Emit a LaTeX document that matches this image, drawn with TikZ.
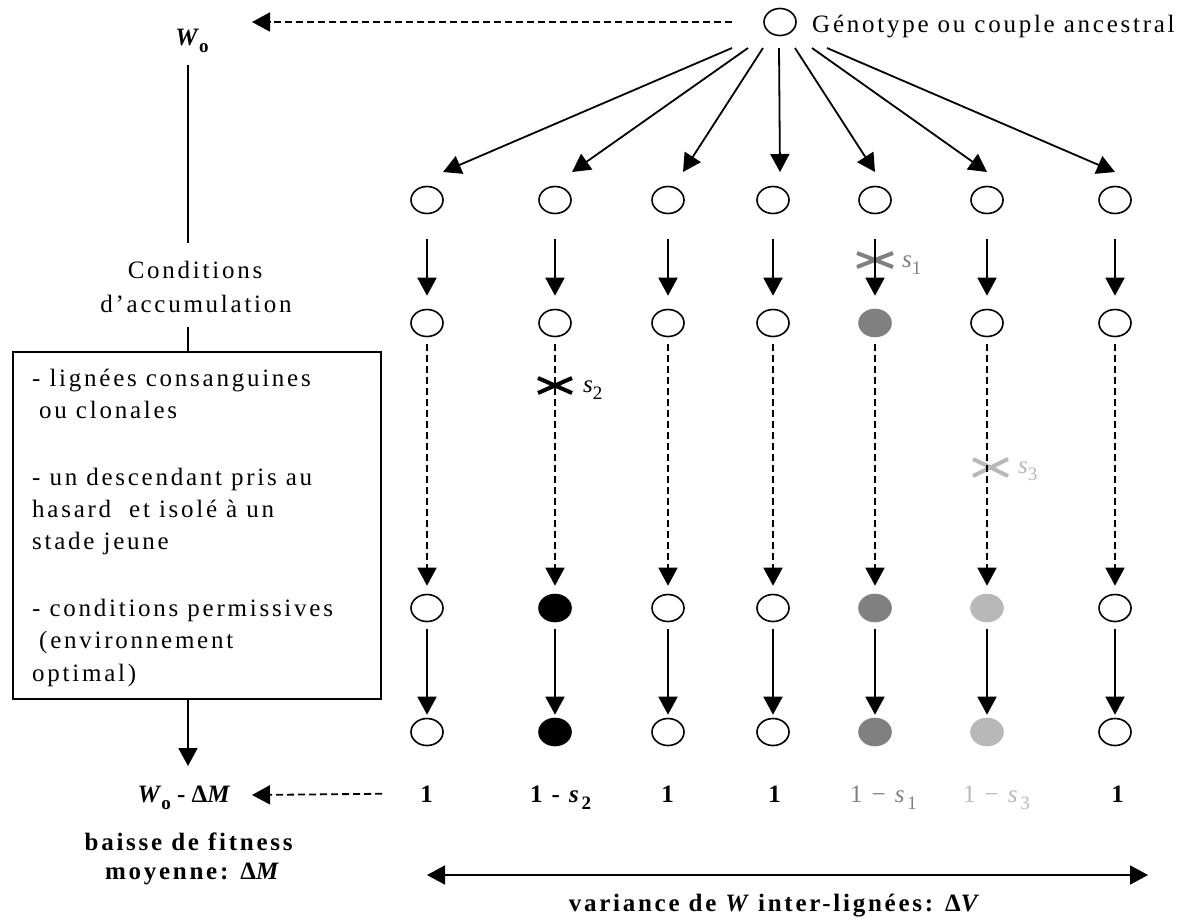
\documentclass[tikz,border=0pt]{standalone}
\usepackage{fontspec}
\setmainfont{Liberation Serif}
\newfontfamily\lsf{Liberation Serif}[LetterSpace=11]
\usetikzlibrary{arrows.meta,shapes.geometric}
\definecolor{gA}{RGB}{128,128,128}
\definecolor{gB}{RGB}{184,184,184}
\newcommand{\sfx}[1]{\raisebox{-7.5pt}{\fontsize{19}{19}\selectfont #1}}
\begin{document}
\begin{tikzpicture}[x=1pt,y=-1pt,
  txt/.style={font=\fontsize{25}{32.3}\selectfont, inner sep=0pt},
  ltxt/.style={font=\fontsize{25}{32.3}\selectfont\lsf, inner sep=0pt},
  circ/.style={ellipse, draw, line width=1.6pt, minimum width=32pt, minimum height=27pt, inner sep=0pt},
  ln/.style={line width=1.8pt},
  arr/.style={ln, -{Triangle[length=18pt,width=19pt]}},
  darr/.style={arr, dash pattern=on 7pt off 4pt},
  crs/.style={line width=4pt},
  cs-2-3/.style={fill=black},
  cs-2-4/.style={fill=black},
  cs-5-2/.style={fill=gA, draw=gA},
  cs-5-3/.style={fill=gA, draw=gA},
  cs-5-4/.style={fill=gA, draw=gA},
  cs-6-3/.style={fill=gB, draw=gB},
  cs-6-4/.style={fill=gB, draw=gB},
]
\useasboundingbox (0,0) rectangle (1198,922);

% ancestor
\node[circ] (anc) at (780,22) {};
\node[ltxt, anchor=base west] (gen) at (812,32) {Génotype ou couple ancestral};
\node[txt, anchor=base] (w0) at (192,45) {\textbf{\textit{W}\sfx{o}}};
\coordinate (w0tip) at (252,22);
\draw[darr] ([xshift=-31pt]anc.west) -- (w0tip);

% columns
\foreach \x [count=\i] in {427,555,668,773,875,987,1115} {
  \foreach \y [count=\j] in {200,323,608,732} {
    \node[circ, cs-\i-\j/.try] (c\i-\j) at (\x,\y) {};
  }
}

% crosses (mutations)
\draw[crs, gA] (857,253) -- (893,267) (857,267) -- (893,253);
\node[txt, gA, anchor=base west] (s1) at (902,267) {\textit{s}\sfx{1}};
\draw[crs] (538,378) -- (572,393) (538,393) -- (572,378);
\node[txt, anchor=base west] (s2) at (583,392) {\textit{s}\sfx{2}};
\draw[crs, gB] (973,459) -- (1008,476) (973,476) -- (1008,459);
\node[txt, gB, anchor=base west] (s3) at (1018,473) {\textit{s}\sfx{3}};

% fan from the ancestor
\foreach \s/\t [count=\i] in {732/443,748/572,763/683,779/780,795/875,812/987,827/1115} {
  \coordinate (fs\i) at (\s,48);
  \coordinate (ft\i) at (\t,172);
  \draw[arr] (fs\i) -- (ft\i);
}

% vertical arrows in each line
\foreach \i in {1,...,7} {
  \draw[arr, shorten <=25pt, shorten >=13pt] (c\i-1) -- (c\i-2);
  \draw[darr, shorten <=7pt, shorten >=8pt] (c\i-2) -- (c\i-3);
  \draw[arr, shorten <=7pt, shorten >=3pt] (c\i-3) -- (c\i-4);
}

% left column
\coordinate (v0) at (188,65);
\coordinate (v1) at (188,243);
\coordinate (v2) at (188,327);
\coordinate (v3) at (188,766);
\draw[ln] (v0) -- (v1);
\node[ltxt, anchor=base] (cd1) at (195,278) {Conditions};
\node[ltxt, anchor=base] (cd2) at (196,312) {d’accumulation};
\node[draw, line width=1.7pt, minimum width=368pt, minimum height=347pt, anchor=north west, inner sep=0pt] (box) at (12,351) {};
\draw[ln] (v2) -- (v2 |- box.north);
\draw[arr] (box.south -| v3) -- (v3);

\node[ltxt, anchor=base west] (b1) at (32,386) {- lignées consanguines};
\node[ltxt, anchor=base west] (b2) at (39,418) {ou clonales};
\node[ltxt, anchor=base west] (b3) at (32,485) {- un descendant pris au};
\node[ltxt, anchor=base west] (b4) at (32,517) {hasard\ \ et isolé à un};
\node[ltxt, anchor=base west] (b5) at (32,549) {stade jeune};
\node[ltxt, anchor=base west] (b6) at (32,616) {- conditions permissives};
\node[ltxt, anchor=base west] (b7) at (39,648) {(environnement};
\node[ltxt, anchor=base west] (b8) at (32,681) {optimal)};

% bottom values
\node[ltxt, anchor=base] (n1) at (428,802) {\textbf{1}};
\node[ltxt, anchor=base west] (n2) at (530,802) {\textbf{1 - \textit{s}\sfx{2}}};
\node[ltxt, anchor=base] (n3) at (669,802) {\textbf{1}};
\node[ltxt, anchor=base] (n4) at (776,802) {\textbf{1}};
\node[ltxt, gA, anchor=base west] (n5) at (850,802) {1 − \textit{s}\sfx{1}};
\node[ltxt, gB, anchor=base west] (n6) at (963,802) {1 − \textit{s}\sfx{3}};
\node[ltxt, anchor=base] (n7) at (1119,802) {\textbf{1}};

\node[txt, anchor=base] (wdm) at (184,802) {\textbf{\textit{W}\sfx{o} - Δ\textit{M}}};
\coordinate (wtip) at (252,795);
\draw[darr] (n1.west -| 382,0) -- (wtip);

\node[ltxt, anchor=base] (bf1) at (190,850) {\textbf{baisse de fitness}};
\node[ltxt, anchor=base] (bf2) at (192,879) {\textbf{moyenne: {\rmfamily Δ\textit{M}}}};

\coordinate (da1) at (427,875);
\coordinate (da2) at (1148,875);
\draw[ln, {Triangle[length=18pt,width=19pt]}-{Triangle[length=18pt,width=19pt]}] (da1) -- (da2);
\node[ltxt, anchor=base] (var) at (774,911) {\textbf{variance de {\rmfamily\textit{W}} inter-lignées: {\rmfamily Δ\textit{V}}}};
\end{tikzpicture}
\end{document}
